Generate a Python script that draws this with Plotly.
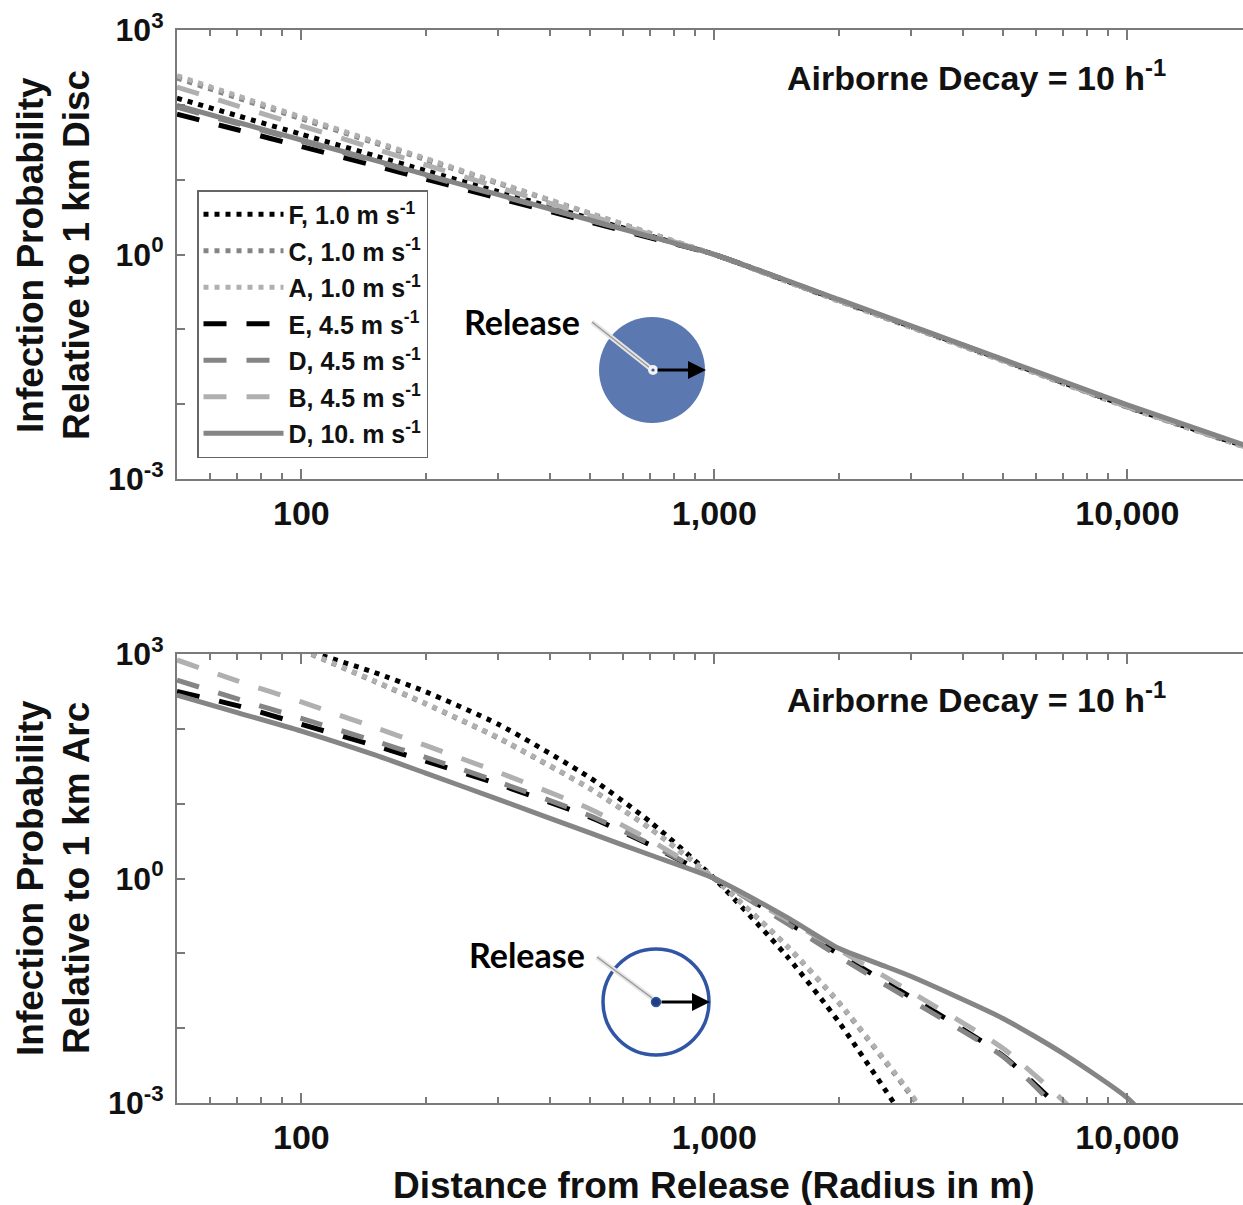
import plotly.graph_objects as go
import math

# ---------------- data ----------------
names = ["F, 1.0 m s<sup>-1</sup>", "C, 1.0 m s<sup>-1</sup>", "A, 1.0 m s<sup>-1</sup>",
         "E, 4.5 m s<sup>-1</sup>", "D, 4.5 m s<sup>-1</sup>", "B, 4.5 m s<sup>-1</sup>",
         "D, 10. m s<sup>-1</sup>"]

# Top panel: relative to 1 km disc
top_x = [50, 70, 100, 150, 200, 300, 500, 700, 1000, 2000, 5000, 10000, 20000]
top_F = [123, 71.6, 40.4, 21.0, 13.2, 6.90, 3.04, 1.77, 1.0, 0.245, 0.0389, 0.0093, 0.00255]
top_C = [228, 124, 65.0, 31.2, 18.5, 8.89, 3.52, 1.91, 1.0, 0.240, 0.0380, 0.00912, 0.00250]
top_A = [245, 132, 68.7, 32.6, 19.2, 9.14, 3.57, 1.93, 1.0, 0.238, 0.0376, 0.00905, 0.00248]
top_E = [75, 46.4, 27.7, 15.5, 10.2, 5.67, 2.72, 1.67, 1.0, 0.245, 0.0390, 0.0093, 0.00255]
top_D = [93, 56.1, 32.7, 17.7, 11.4, 6.18, 2.86, 1.72, 1.0, 0.245, 0.0390, 0.0093, 0.00255]
top_B = [173, 97.1, 52.5, 26.1, 15.8, 7.89, 3.30, 1.85, 1.0, 0.243, 0.0385, 0.00923, 0.00252]
top_D10 = [98, 58.5, 33.9, 18.2, 11.7, 6.31, 2.89, 1.73, 1.0, 0.251, 0.0398, 0.00977, 0.00262]

# Bottom panel: relative to 1 km arc
bot_x_dot = [100, 150, 200, 300, 500, 700, 1000, 1500, 2000, 3000, 3500]
bot_F = [1167, 569, 313, 115, 22.2, 5.69, 1.0, 0.091, 0.0122, 0.000447, 0.00012]
bot_C = [1130, 432, 215, 75.0, 15.8, 4.62, 1.0, 0.124, 0.0219, 0.00124, 0.00036]
bot_A = [1150, 440, 219, 76.5, 16.0, 4.65, 1.0, 0.126, 0.0225, 0.00130, 0.00038]
bot_x_dash = [50, 70, 100, 150, 200, 300, 500, 700, 1000, 1500, 2000, 3000, 5000, 7000, 8000]
bot_E = [316, 204, 115, 60.0, 37.0, 18.2, 6.6, 2.8, 1.0, 0.263, 0.098, 0.0257, 0.00427, 0.00076, 0.0003]
bot_D = [447, 251, 138, 69.0, 41.7, 19.5, 6.9, 2.88, 1.0, 0.251, 0.091, 0.0234, 0.00417, 0.00068, 0.00025]
bot_B = [832, 437, 229, 105, 60.0, 26.3, 8.5, 3.24, 1.0, 0.282, 0.112, 0.0302, 0.00537, 0.00107, 0.0005]
bot_x_sol = [50, 70, 100, 150, 200, 300, 500, 700, 1000, 1500, 2000, 2500, 3000, 5000, 7000, 10000, 12000]
bot_D10 = [282, 165, 93.5, 45.2, 25.6, 11.4, 4.06, 2.06, 1.0, 0.302, 0.117, 0.0724, 0.049, 0.0135, 0.00457, 0.00117, 0.0004]

x_tickvals = [100, 1000, 10000]
x_ticktext = ["100", "1,000", "10,000"]
y_tickvals = [1e-3, 1e-2, 1e-1, 1e0, 1e1, 1e2, 1e3]
y_ticktext = ["10<sup>-3</sup>", "", "", "10<sup>0</sup>", "", "", "10<sup>3</sup>"]

# ---------------- styling ----------------
BLACK, MID, LIGHT = "#000000", "#858585", "#b0b0b0"
DOT, DASH = "5px,6px", "23px,20px"
styles = [(BLACK, DOT), (MID, DOT), (LIGHT, DOT), (BLACK, DASH), (MID, DASH), (LIGHT, DASH), (MID, "solid")]
FONT = "Liberation Sans, Arial, sans-serif"

W, H = 1243, 1205
L = 177
def px(x):
    return (x - L) / (W - L)
def py(y):
    return (H - y) / H

fig = go.Figure()
top_series = [top_F, top_C, top_A, top_E, top_D, top_B, top_D10]
for nm, ys, (c, d) in zip(names, top_series, styles):
    fig.add_trace(go.Scatter(x=top_x, y=ys, mode="lines", name=nm, xaxis="x", yaxis="y",
                             legendgroup=nm,
                             line=dict(color=c, dash=d, width=5, shape="spline", smoothing=0.6)))
bot_series = [(bot_x_dot, bot_F), (bot_x_dot, bot_C), (bot_x_dot, bot_A),
              (bot_x_dash, bot_E), (bot_x_dash, bot_D), (bot_x_dash, bot_B), (bot_x_sol, bot_D10)]
for nm, (xs, ys), (c, d) in zip(names, bot_series, styles):
    fig.add_trace(go.Scatter(x=xs, y=ys, mode="lines", name=nm, xaxis="x2", yaxis="y2", showlegend=False,
                             line=dict(color=c, dash=d, width=5, shape="spline", smoothing=0.6)))

xr = [math.log10(50), math.log10(50) + (W - L) / 413.0]
axcol = "#7a7a7a"
def xax(anchor):
    return dict(type="log", range=xr, domain=[0, 1], anchor=anchor, automargin=False,
                tickvals=x_tickvals, ticktext=x_ticktext, ticks="inside", ticklen=10, tickwidth=1.5,
                tickcolor=axcol, showline=True, linecolor=axcol, linewidth=2, mirror="allticks",
                showgrid=False, zeroline=False, ticklabelstandoff=3,
                tickfont=dict(family=FONT, size=34, color="#111", weight="bold"),
                minor=dict(ticks="inside", ticklen=6, tickcolor=axcol, tickwidth=1.5, dtick="D1", showgrid=False))
def yax(anchor, dom):
    return dict(type="log", range=[-3, 3], domain=dom, anchor=anchor, automargin=False,
                tickvals=y_tickvals, ticktext=y_ticktext, ticks="inside", ticklen=8, tickwidth=1.5,
                tickcolor=axcol, showline=True, linecolor=axcol, linewidth=2, mirror=False,
                showgrid=False, zeroline=False, ticklabelstandoff=5,
                tickfont=dict(family=FONT, size=32, color="#111", weight="bold"))

fig.update_layout(
    width=W, height=H, margin=dict(l=L, r=0, t=0, b=0, autoexpand=False),
    paper_bgcolor="white", plot_bgcolor="white",
    xaxis=xax("y"), yaxis=yax("x", [py(479), py(30)]),
    xaxis2=xax("y2"), yaxis2=yax("x2", [py(1103), py(654)]),
    legend=dict(x=px(197), y=py(190), xanchor="left", yanchor="top", bgcolor="white",
                bordercolor="#666", borderwidth=1.5, itemwidth=80, tracegroupgap=1,
                font=dict(family=FONT, size=25, color="#111", weight="bold")),
    showlegend=True,
)

ann = []
def text(x, y, t, size=32, angle=0):
    ann.append(dict(x=px(x), y=py(y), xref="paper", yref="paper", text=t, showarrow=False,
                    textangle=angle, xanchor="center", yanchor="middle",
                    font=dict(family=FONT, size=size, color="#111", weight="bold")))

text(30, 255, "Infection Probability", 37, -90)
text(76, 255, "Relative to 1 km Disc", 37, -90)
text(30, 878, "Infection Probability", 37, -90)
text(76, 878, "Relative to 1 km Arc", 37, -90)
text(714, 1185, "Distance from Release (Radius in m)", 37)
text(976, 75, "Airborne Decay = 10 h<sup>-1</sup>", 34)
text(976, 698, "Airborne Decay = 10 h<sup>-1</sup>", 34)
CAL = "Lato, Liberation Sans, sans-serif"
for (x, y) in [(522, 321), (527, 954)]:
    ann.append(dict(x=px(x), y=py(y), xref="paper", yref="paper", text="Release", showarrow=False,
                    xanchor="center", yanchor="middle", font=dict(family=CAL, size=34, color="#000", weight="bold")))

shapes = []
def circ(cx, cy, r, fill, lc, lw):
    shapes.append(dict(type="circle", xref="paper", yref="paper", x0=px(cx - r), x1=px(cx + r),
                       y0=py(cy + r), y1=py(cy - r), fillcolor=fill, line=dict(color=lc, width=lw), layer="above"))
def seg(x0, y0, x1, y1, c, w):
    shapes.append(dict(type="line", xref="paper", yref="paper", x0=px(x0), y0=py(y0), x1=px(x1), y1=py(y1),
                       line=dict(color=c, width=w), layer="above"))

# top: filled disc
circ(652, 370, 53, "#5b78b0", "#5b78b0", 0)
seg(592, 322, 650, 368, "#e6e6e6", 5)
seg(592, 322, 650, 368, "#9a9a9a", 1.5)
circ(653, 370, 5, "#f2f2f2", "#f2f2f2", 0)
circ(653, 370, 1.6, "#3a5a9a", "#3a5a9a", 0)
# bottom: outlined circle
circ(656, 1002, 53, "rgba(0,0,0,0)", "#2f55a4", 3.5)
seg(597, 957, 652, 998, "#e6e6e6", 5)
seg(597, 957, 652, 998, "#9a9a9a", 1.5)
circ(656, 1002, 4.5, "#1f3f80", "#2f55a4", 1.5)

for (cx, cy, ex) in [(656, 370, 706), (660, 1002, 710)]:
    ann.append(dict(x=px(ex), y=py(cy), xref="paper", yref="paper", ax=-(ex - cx), ay=0,
                    axref="pixel", ayref="pixel", text="", showarrow=True, arrowhead=2,
                    arrowsize=1.2, arrowwidth=3, arrowcolor="#000"))

fig.update_layout(annotations=ann, shapes=shapes)
fig.write_html("out.html")
